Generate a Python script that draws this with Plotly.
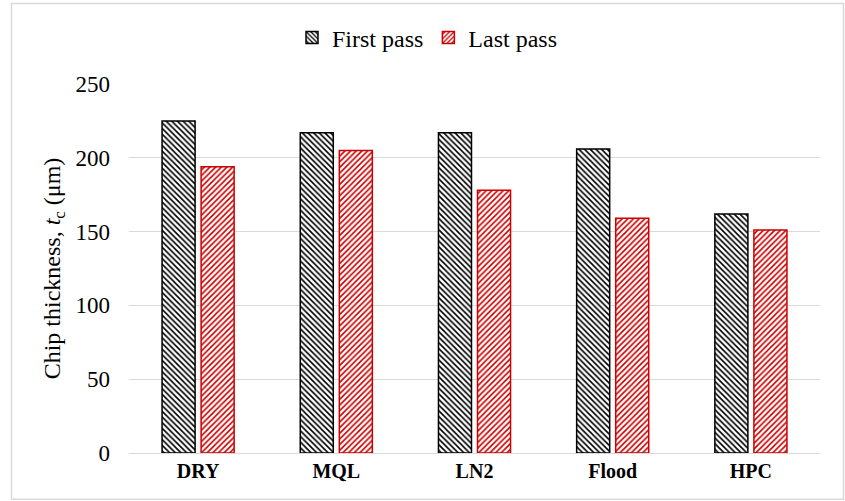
import plotly.graph_objects as go

categories = ["DRY", "MQL", "LN2", "Flood", "HPC"]
first_pass = [225, 217, 217, 206, 162]
last_pass = [194, 205, 178, 159, 151]
y_ticks = [0, 50, 100, 150, 200, 250]

FONT = "Liberation Serif"
RED = "#CC0000"

fig = go.Figure()
fig.add_trace(go.Bar(
    name="First pass", x=categories, y=first_pass,
    marker=dict(
        color="white",
        line=dict(color="black", width=1.5),
        pattern=dict(shape="\\", fgcolor="black", bgcolor="white",
                     size=4, solidity=0.4, fillmode="replace"),
    ),
))
fig.add_trace(go.Bar(
    name="Last pass", x=categories, y=last_pass,
    marker=dict(
        color="white",
        line=dict(color=RED, width=1.5),
        pattern=dict(shape="/", fgcolor=RED, bgcolor="white",
                     size=4, solidity=0.4, fillmode="replace"),
    ),
))

# light frame around the whole chart
fig.add_shape(type="rect", xref="paper", yref="paper",
              x0=-0.170, x1=1.034, y0=-0.125, y1=1.218,
              line=dict(color="#d9d9d9", width=1.5), layer="below")

fig.update_layout(
    width=845, height=501,
    margin=dict(l=129, r=25, t=84, b=48),
    paper_bgcolor="white", plot_bgcolor="white",
    barmode="group", bargap=0.435, bargroupgap=0.154,
    font=dict(family=FONT, size=22, color="black"),
    legend=dict(orientation="h", x=0.432, xanchor="center",
                y=1.125, yanchor="middle",
                font=dict(family=FONT, size=24, color="black"),
                itemwidth=30, traceorder="normal"),
    xaxis=dict(showgrid=False, showline=True, linecolor="#d9d9d9",
               linewidth=1, ticks="",
               tickfont=dict(family=FONT, size=20, color="black",
                             weight="bold")),
    yaxis=dict(range=[0, 250], tickvals=y_ticks, showgrid=True,
               gridcolor="#d9d9d9", gridwidth=1, zeroline=False,
               showline=False, ticks="", ticklabelstandoff=18,
               tickfont=dict(family=FONT, size=23, color="black"),
               title=dict(text="Chip thickness, <i>t</i><sub>c</sub> (μm)",
                          font=dict(family=FONT, size=24, color="black"),
                          standoff=8)),
)

fig.write_html("out.html")
